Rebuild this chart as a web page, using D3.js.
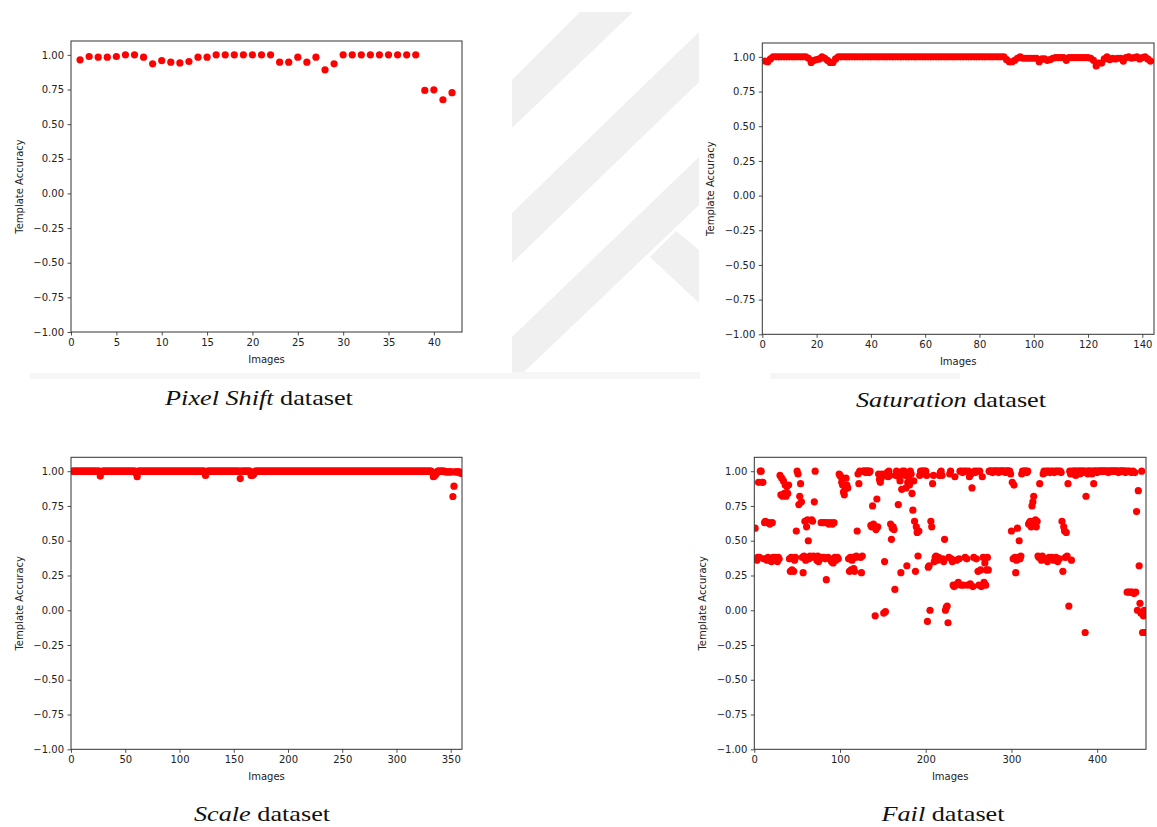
<!DOCTYPE html>
<html>
<head>
<meta charset="utf-8">
<script src="https://cdn.jsdelivr.net/npm/d3@7"></script>
<style>
  body { margin: 0; background: #fff; }
  svg { display: block; }
  .tick text, .axis-label { font-family: "DejaVu Sans", sans-serif; font-size: 10px; fill: #222; }
  .caption { font-family: "Liberation Serif", "Times New Roman", serif; font-size: 21.5px; fill: #111; }
</style>
</head>
<body>
<script>
'use strict';

// y ticks shared by every panel
const yTicks = [-1, -0.75, -0.5, -0.25, 0, 0.25, 0.5, 0.75, 1];

// Pixel Shift dataset, images 1..42
const pixelShift = [
  0.964, 0.988, 0.983, 0.983, 0.988, 1.0, 1.0, 0.983, 0.935, 0.959,
  0.947, 0.942, 0.952, 0.983, 0.983, 1.0, 1.0, 1.0, 1.0, 1.0,
  1.0, 1.0, 0.947, 0.947, 0.983, 0.947, 0.983, 0.892, 0.935, 1.0,
  1.0, 1.0, 1.0, 1.0, 1.0, 1.0, 1.0, 1.0, 0.743, 0.748,
  0.676, 0.727
];
const pixelShiftTicks = [0, 5, 10, 15, 20, 25, 30, 35, 40];

// Saturation dataset, images 1..143, as [value, repeat] runs
const saturationRuns = [
  [0.97, 1], [0.965, 1], [0.985, 1], [1.0, 13], [0.99, 1], [0.96, 1], [0.975, 1],
  [0.98, 1], [0.985, 1], [1.0, 1], [0.99, 1], [0.975, 1], [0.96, 2], [0.985, 1],
  [1.0, 62], [0.98, 1], [0.965, 2], [0.975, 1], [0.99, 1], [1.0, 1], [0.99, 6],
  [0.965, 1], [0.985, 2], [0.975, 1], [0.98, 1], [0.99, 1], [0.995, 4], [0.975, 1],
  [0.995, 8], [0.99, 1], [0.975, 1], [0.935, 1], [0.955, 2], [0.985, 1], [1.0, 1],
  [0.98, 1], [0.99, 1], [0.985, 1], [0.99, 2], [0.97, 1], [0.995, 1], [1.0, 1],
  [0.99, 1], [0.995, 1], [1.0, 1], [0.985, 1], [0.995, 1], [1.0, 1], [0.985, 1], [0.97, 1]
];
const saturationTicks = [0, 20, 40, 60, 80, 100, 120, 140];

// Scale dataset, images 1..359, as [value, repeat] runs
const scaleRuns = [
  [1.0, 26], [0.965, 1], [0.99, 1], [1.0, 31], [0.985, 1], [0.96, 1], [1.0, 62],
  [0.97, 1], [0.99, 1], [1.0, 30], [0.947, 1], [1.0, 9], [0.97, 2], [0.975, 1],
  [0.985, 1], [1.0, 163], [0.99, 1], [0.96, 1], [0.965, 1], [0.975, 1], [0.985, 1],
  [1.0, 7], [0.995, 7], [0.818, 1], [0.892, 1], [0.995, 5], [0.985, 1]
];
const scaleTicks = [0, 50, 100, 150, 200, 250, 300, 350];

// Fail dataset, images 1..456
const fail = [
  0.59, 0.37, 0.36, 0.38, 0.92, 0.38, 1.0, 1.0, 0.92, 0.92,
  0.37, 0.63, 0.64, 0.37, 0.36, 0.38, 0.63, 0.62, 0.37, 0.35,
  0.63, 0.38, 0.37, 0.36, 0.38, 0.37, 0.35, 0.38, 0.37, 0.97,
  0.83, 0.95, 0.82, 0.93, 0.84, 0.90, 0.82, 0.89, 0.84, 0.90,
  0.37, 0.28, 0.38, 0.29, 0.37, 0.28, 0.36, 0.38, 0.57, 1.0,
  0.98, 0.76, 0.82, 0.91, 0.78, 0.38, 0.27, 0.39, 0.64, 0.36,
  0.60, 0.65, 0.50, 0.37, 0.39, 0.38, 0.65, 0.64, 0.39, 0.78,
  1.0, 0.38, 0.36, 0.39, 0.35, 0.38, 0.37, 0.63, 0.38, 0.63,
  0.38, 0.63, 0.37, 0.22, 0.63, 0.38, 0.62, 0.37, 0.63, 0.35,
  0.62, 0.34, 0.63, 0.38, 0.36, 0.37, 0.38, 0.37, 0.98, 0.97,
  0.96, 0.92, 0.90, 0.85, 0.83, 0.87, 0.95, 0.90, 0.88, 0.37,
  0.28, 0.38, 0.29, 0.36, 0.38, 0.30, 0.28, 0.38, 0.39, 0.57,
  0.98, 0.91, 1.0, 0.38, 0.27, 0.39, 1.0, 1.0, 1.0, 0.99,
  1.0, 1.0, 1.0, 0.99, 1.0, 0.61, 0.60, 0.75, 0.62, 0.60,
  -0.04, 0.58, 0.80, 0.60, 0.98, 0.94, 0.92, 0.95, 0.98, 0.97,
  -0.02, 0.35, -0.01, 0.98, 0.99, 0.96, 1.0, 0.97, 0.62, 0.51,
  0.59, 0.60, 0.58, 0.15, 0.97, 1.0, 0.99, 0.76, 0.96, 0.93,
  0.27, 0.87, 1.0, 0.98, 1.0, 0.97, 0.88, 0.32, 0.92, 0.96,
  0.90, 1.0, 0.98, 0.84, 0.72, 0.93, 0.64, 0.28, 0.60, 0.56,
  0.39, 0.57, 0.97, 1.0, 0.98, 1.0, 1.0, 0.99, 1.0, 1.0,
  0.97, -0.08, 0.31, 0.32, 0.0, 0.64, 0.60, 0.91, 0.97, 0.35,
  0.38, 0.39, 0.37, 0.36, 0.38, 0.97, 0.99, 1.0, 0.97, 0.37,
  0.35, 0.51, 0.0, 0.02, 0.03, -0.09, 0.38, 0.98, 1.0, 0.37,
  0.35, 0.18, 0.17, 0.96, 0.18, 0.36, 0.19, 0.20, 0.37, 1.0,
  0.18, 1.0, 0.99, 0.18, 1.0, 0.38, 1.0, 0.37, 0.18, 1.0,
  0.96, 0.19, 0.98, 0.88, 0.17, 0.38, 1.0, 0.99, 0.37, 1.0,
  0.28, 0.18, 1.0, 0.29, 0.17, 0.96, 0.38, 0.20, 0.34, 0.18,
  0.29, 0.38, 0.29, 1.0, 1.0, 1.0, 1.0, 0.99, 1.0, 1.0,
  1.0, 1.0, 1.0, 1.0, 0.99, 1.0, 1.0, 1.0, 1.0, 1.0,
  1.0, 1.0, 0.99, 1.0, 1.0, 1.0, 1.0, 1.0, 0.98, 0.57,
  0.92, 0.37, 0.90, 0.38, 0.27, 0.36, 0.59, 0.38, 0.50, 0.37,
  0.39, 0.98, 1.0, 0.99, 1.0, 1.0, 1.0, 0.99, 1.0, 0.62,
  0.63, 0.64, 0.60, 0.75, 0.78, 0.82, 0.63, 0.65, 0.60, 0.64,
  0.39, 0.38, 0.91, 0.38, 0.36, 0.39, 0.98, 1.0, 0.37, 0.99,
  1.0, 0.35, 1.0, 0.38, 0.99, 1.0, 0.38, 1.0, 0.36, 0.99,
  1.0, 0.38, 1.0, 0.35, 1.0, 0.37, 1.0, 0.99, 0.64, 0.28,
  0.60, 0.57, 0.38, 0.56, 0.39, 0.91, 0.03, 1.0, 0.98, 0.36,
  1.0, 0.98, 1.0, 1.0, 0.97, 1.0, 0.99, 1.0, 1.0, 0.98,
  1.0, 1.0, 0.99, 1.0, 1.0, -0.16, 0.82, 1.0, 0.98, 1.0,
  1.0, 0.99, 1.0, 0.98, 1.0, 0.91, 1.0, 1.0, 1.0, 0.99,
  1.0, 1.0, 1.0, 1.0, 1.0, 1.0, 1.0, 1.0, 1.0, 1.0,
  1.0, 1.0, 0.99, 1.0, 1.0, 1.0, 1.0, 1.0, 1.0, 1.0,
  1.0, 1.0, 1.0, 1.0, 0.99, 1.0, 1.0, 1.0, 1.0, 1.0,
  1.0, 1.0, 0.99, 1.0, 0.13, 1.0, 0.13, 1.0, 0.13, 0.99,
  0.13, 1.0, 0.12, 0.99, 0.13, 0.71, 0.0, 0.86, 0.32, 0.05,
  -0.02, 1.0, -0.16, -0.04, 0.0, -0.16
];
const failTicks = [0, 100, 200, 300, 400];

const expand = runs => runs.flatMap(([v, n]) => Array(n).fill(v));

const panels = [
  { id: 'ps', name: 'Pixel Shift', values: pixelShift, xMax: 43.1, ticks: pixelShiftTicks,
    box: [71, 41, 462, 332], caption: [259, 405] },
  { id: 'sat', name: 'Saturation', values: expand(saturationRuns), xMax: 144.3, ticks: saturationTicks,
    box: [762.3, 43, 1154, 334.3], caption: [951, 407] },
  { id: 'scale', name: 'Scale', values: expand(scaleRuns), xMax: 360.4, ticks: scaleTicks,
    box: [71, 457.3, 462, 749.3], caption: [262, 821] },
  { id: 'fail', name: 'Fail', values: fail, xMax: 457, ticks: failTicks,
    box: [754.3, 457.3, 1146, 749.3], caption: [943, 821] }
];

const svg = d3.select('body').append('svg')
  .attr('width', 1157)
  .attr('height', 827);

// faint logo watermark behind the figures
const mark = svg.append('g').attr('fill', '#f0f0f0');
const stripes = [
  [[512, 80], [580, 12], [633, 12], [512, 128]],
  [[512, 213], [699, 32], [699, 82], [512, 263]],
  [[512, 337], [699, 157], [699, 205], [523, 373], [512, 373]],
  [[650, 257], [676, 231], [699, 250], [699, 303]]
];
mark.selectAll('polygon')
  .data(stripes)
  .enter().append('polygon')
    .attr('points', d => d.map(p => p.join(',')).join(' '));
mark.append('rect').attr('x', 30).attr('y', 372).attr('width', 670).attr('height', 7).attr('fill', '#f6f6f6');
mark.append('rect').attr('x', 770).attr('y', 372).attr('width', 190).attr('height', 7).attr('fill', '#f6f6f6');
// the figure images themselves are white and cover the watermark
svg.append('rect').attr('x', 0).attr('y', 0).attr('width', 512).attr('height', 373).attr('fill', '#fff');
svg.append('rect').attr('x', 699).attr('y', 0).attr('width', 458).attr('height', 373).attr('fill', '#fff');

for (const p of panels) {
  const [x0, y0, x1, y1] = p.box;
  const w = x1 - x0;
  const h = y1 - y0;
  const x = d3.scaleLinear().domain([0, p.xMax]).range([0, w]);
  const y = d3.scaleLinear().domain([-1, 1.1]).range([h, 0]);

  const g = svg.append('g').attr('transform', `translate(${x0},${y0})`);

  g.append('clipPath').attr('id', 'clip-' + p.id)
    .append('rect').attr('width', w).attr('height', h);

  g.append('g')
    .attr('clip-path', `url(#clip-${p.id})`)
    .selectAll('circle')
    .data(p.values)
    .enter().append('circle')
      .attr('cx', (d, i) => x(i + 1))
      .attr('cy', d => y(d))
      .attr('r', 3.6)
      .attr('fill', '#ff0000');

  const xAxis = g.append('g')
    .attr('transform', `translate(0,${h})`)
    .call(d3.axisBottom(x).tickValues(p.ticks).tickSize(3.5).tickPadding(3.5).tickFormat(d3.format('d')));
  const yAxis = g.append('g')
    .call(d3.axisLeft(y).tickValues(yTicks).tickSize(3.5).tickPadding(3.5).tickFormat(d3.format('.2f')));
  for (const a of [xAxis, yAxis]) {
    a.select('.domain').remove();
    a.selectAll('.tick line').attr('stroke', '#222').attr('stroke-width', 0.8);
    a.selectAll('.tick text').attr('font-family', null).attr('font-size', null);
  }

  g.append('rect')
    .attr('width', w)
    .attr('height', h)
    .attr('fill', 'none')
    .attr('stroke', '#333')
    .attr('stroke-width', 1);

  g.append('text')
    .attr('class', 'axis-label')
    .attr('x', w / 2)
    .attr('y', h + 30.5)
    .attr('text-anchor', 'middle')
    .text('Images');

  g.append('text')
    .attr('class', 'axis-label')
    .attr('transform', `translate(-52,${h / 2}) rotate(-90)`)
    .attr('dy', '0.35em')
    .attr('text-anchor', 'middle')
    .text('Template Accuracy');

  // the captions in the source are a little stretched sideways
  const cap = svg.append('text')
    .attr('class', 'caption')
    .attr('transform', `translate(${p.caption[0]},${p.caption[1]}) scale(1.22,1)`)
    .attr('text-anchor', 'middle');
  cap.append('tspan').attr('font-style', 'italic').text(p.name);
  cap.append('tspan').text(' dataset');
}
</script>
</body>
</html>
